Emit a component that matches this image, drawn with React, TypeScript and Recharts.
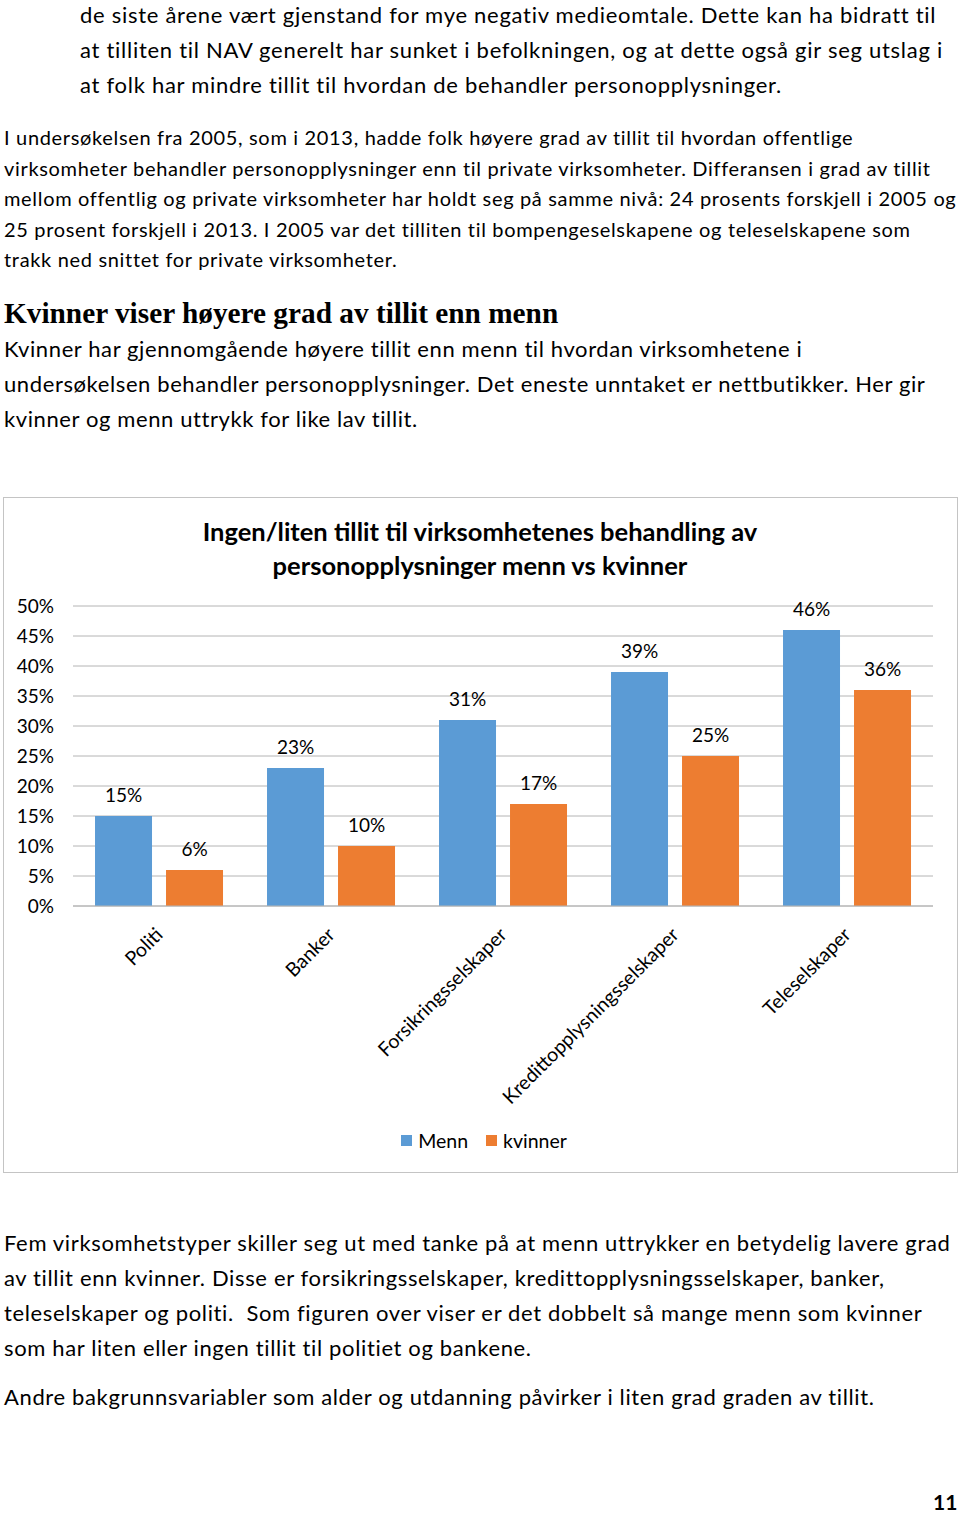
import React from "react"
import { BarChart, Bar, XAxis, YAxis, CartesianGrid, Legend, LabelList } from "recharts"

const categories = ["Politi", "Banker", "Forsikringsselskaper", "Kredittopplysningsselskaper", "Teleselskaper"]
const menn = [15, 23, 31, 39, 46]
const kvinner = [6, 10, 17, 25, 36]
const yTicks = [0, 5, 10, 15, 20, 25, 30, 35, 40, 45, 50]

const chartData = categories.map((name, i) => ({ name, Menn: menn[i], kvinner: kvinner[i] }))

const BLUE = "#5b9bd5"
const ORANGE = "#ed7d31"
const GRID = "#b4b4b4"
const SANS = "Lato, 'Open Sans', sans-serif"

const para1 = [
  "de siste årene vært gjenstand for mye negativ medieomtale. Dette kan ha bidratt til",
  "at tilliten til NAV generelt har sunket i befolkningen, og at dette også gir seg utslag i",
  "at folk har mindre tillit til hvordan de behandler personopplysninger.",
]
const para2 = [
  "I undersøkelsen fra 2005, som i 2013, hadde folk høyere grad av tillit til hvordan offentlige",
  "virksomheter behandler personopplysninger enn til private virksomheter. Differansen i grad av tillit",
  "mellom offentlig og private virksomheter har holdt seg på samme nivå: 24 prosents forskjell i 2005 og",
  "25 prosent forskjell i 2013. I 2005 var det tilliten til bompengeselskapene og teleselskapene som",
  "trakk ned snittet for private virksomheter.",
]
const heading = "Kvinner viser høyere grad av tillit enn menn"
const para3 = [
  "Kvinner har gjennomgående høyere tillit enn menn til hvordan virksomhetene i",
  "undersøkelsen behandler personopplysninger. Det eneste unntaket er nettbutikker. Her gir",
  "kvinner og menn uttrykk for like lav tillit.",
]
const para4 = [
  "Fem virksomhetstyper skiller seg ut med tanke på at menn uttrykker en betydelig lavere grad",
  "av tillit enn kvinner. Disse er forsikringsselskaper, kredittopplysningsselskaper, banker,",
  "teleselskaper og politi.  Som figuren over viser er det dobbelt så mange menn som kvinner",
  "som har liten eller ingen tillit til politiet og bankene.",
]
const para5 = ["Andre bakgrunnsvariabler som alder og utdanning påvirker i liten grad graden av tillit."]
const titleLines = ["Ingen/liten tillit til virksomhetenes behandling av", "personopplysninger menn vs kvinner"]

function Lines({ lines, top, left, size, lh, ls }: { lines: string[]; top: number; left: number; size: number; lh: number; ls: number }) {
  return (
    <div style={{ position: "absolute", top, left, fontSize: size, lineHeight: `${lh}px`, letterSpacing: ls, whiteSpace: "pre" }}>
      {lines.map((l, i) => (
        <div key={i} style={{ height: lh }}>{l}</div>
      ))}
    </div>
  )
}

function AngledTick(props: any) {
  const { x, y, payload } = props
  const ax = x + 5
  const ay = y + 22
  return (
    <text x={ax} y={ay} transform={`rotate(-45, ${ax}, ${ay})`} textAnchor="end" fontSize={19.5} fill="#000" fontFamily={SANS}>
      {payload.value}
    </text>
  )
}

function LegendContent() {
  const item = (color: string, label: string) => (
    <div style={{ display: "flex", alignItems: "center", marginRight: 18 }}>
      <span style={{ width: 11, height: 11, background: color, marginRight: 6, display: "inline-block" }} />
      <span>{label}</span>
    </div>
  )
  return (
    <div style={{ height: 30, display: "flex", justifyContent: "center", alignItems: "center", fontSize: 19.5, paddingLeft: 26, fontFamily: SANS, color: "#000" }}>
      {item(BLUE, "Menn")}
      {item(ORANGE, "kvinner")}
    </div>
  )
}

export default function App() {
  return (
    <div style={{ position: "fixed", top: 0, left: 0, width: 960, height: 1513, fontFamily: SANS, color: "#000", background: "#fff", overflow: "hidden" }}>
      <Lines lines={para1} top={-3} left={80} size={22} lh={35} ls={0.72} />
      <Lines lines={para2} top={122} left={4} size={20} lh={30.5} ls={0.67} />
      <div style={{ position: "absolute", top: 296, left: 4, fontFamily: "'Liberation Serif', serif", fontWeight: "bold", fontSize: 29.3, lineHeight: "34px", whiteSpace: "pre" }}>
        {heading}
      </div>
      <Lines lines={para3} top={331} left={4} size={22} lh={35} ls={0.6} />

      <div style={{ position: "absolute", top: 497, left: 3, width: 955, height: 676, boxSizing: "border-box", border: "1px solid #c4c4c4" }}>
        <div style={{ position: "absolute", top: 16, left: 0, width: 952, textAlign: "center", fontWeight: "bold", fontSize: 25.5, lineHeight: "34px" }}>
          {titleLines.map((t, i) => (
            <div key={i}>{t}</div>
          ))}
        </div>
        <BarChart
          width={952}
          height={674}
          data={chartData}
          margin={{ top: 108, right: 23, left: 0, bottom: 17 }}
          barCategoryGap="12.8%"
          barGap={14}
          style={{ fontFamily: SANS }}
        >
          <CartesianGrid horizontal vertical={false} stroke={GRID} />
          <YAxis
            domain={[0, 50]}
            ticks={yTicks}
            width={69}
            axisLine={false}
            tickLine={false}
            tickSize={0}
            tickMargin={19}
            tickFormatter={(v: number) => `${v}%`}
            tick={{ fontSize: 19, fill: "#000" }}
          />
          <XAxis dataKey="name" height={219} interval={0} axisLine={{ stroke: GRID }} tickLine={false} tick={<AngledTick />} />
          <Legend verticalAlign="bottom" content={<LegendContent />} wrapperStyle={{ left: 0, width: 952 }} />
          <Bar dataKey="Menn" fill={BLUE} isAnimationActive={false}>
            <LabelList dataKey="Menn" position="top" offset={14} formatter={(v: any) => `${v}%`} style={{ fontSize: 19, fill: "#000" }} />
          </Bar>
          <Bar dataKey="kvinner" fill={ORANGE} isAnimationActive={false}>
            <LabelList dataKey="kvinner" position="top" offset={14} formatter={(v: any) => `${v}%`} style={{ fontSize: 19, fill: "#000" }} />
          </Bar>
        </BarChart>
      </div>

      <Lines lines={para4} top={1225} left={4} size={22} lh={35} ls={0.64} />
      <Lines lines={para5} top={1379} left={4} size={22} lh={35} ls={0.64} />
      <div style={{ position: "absolute", top: 1492, left: 933, fontWeight: "bold", fontSize: 21, lineHeight: "20px" }}>11</div>
    </div>
  )
}
